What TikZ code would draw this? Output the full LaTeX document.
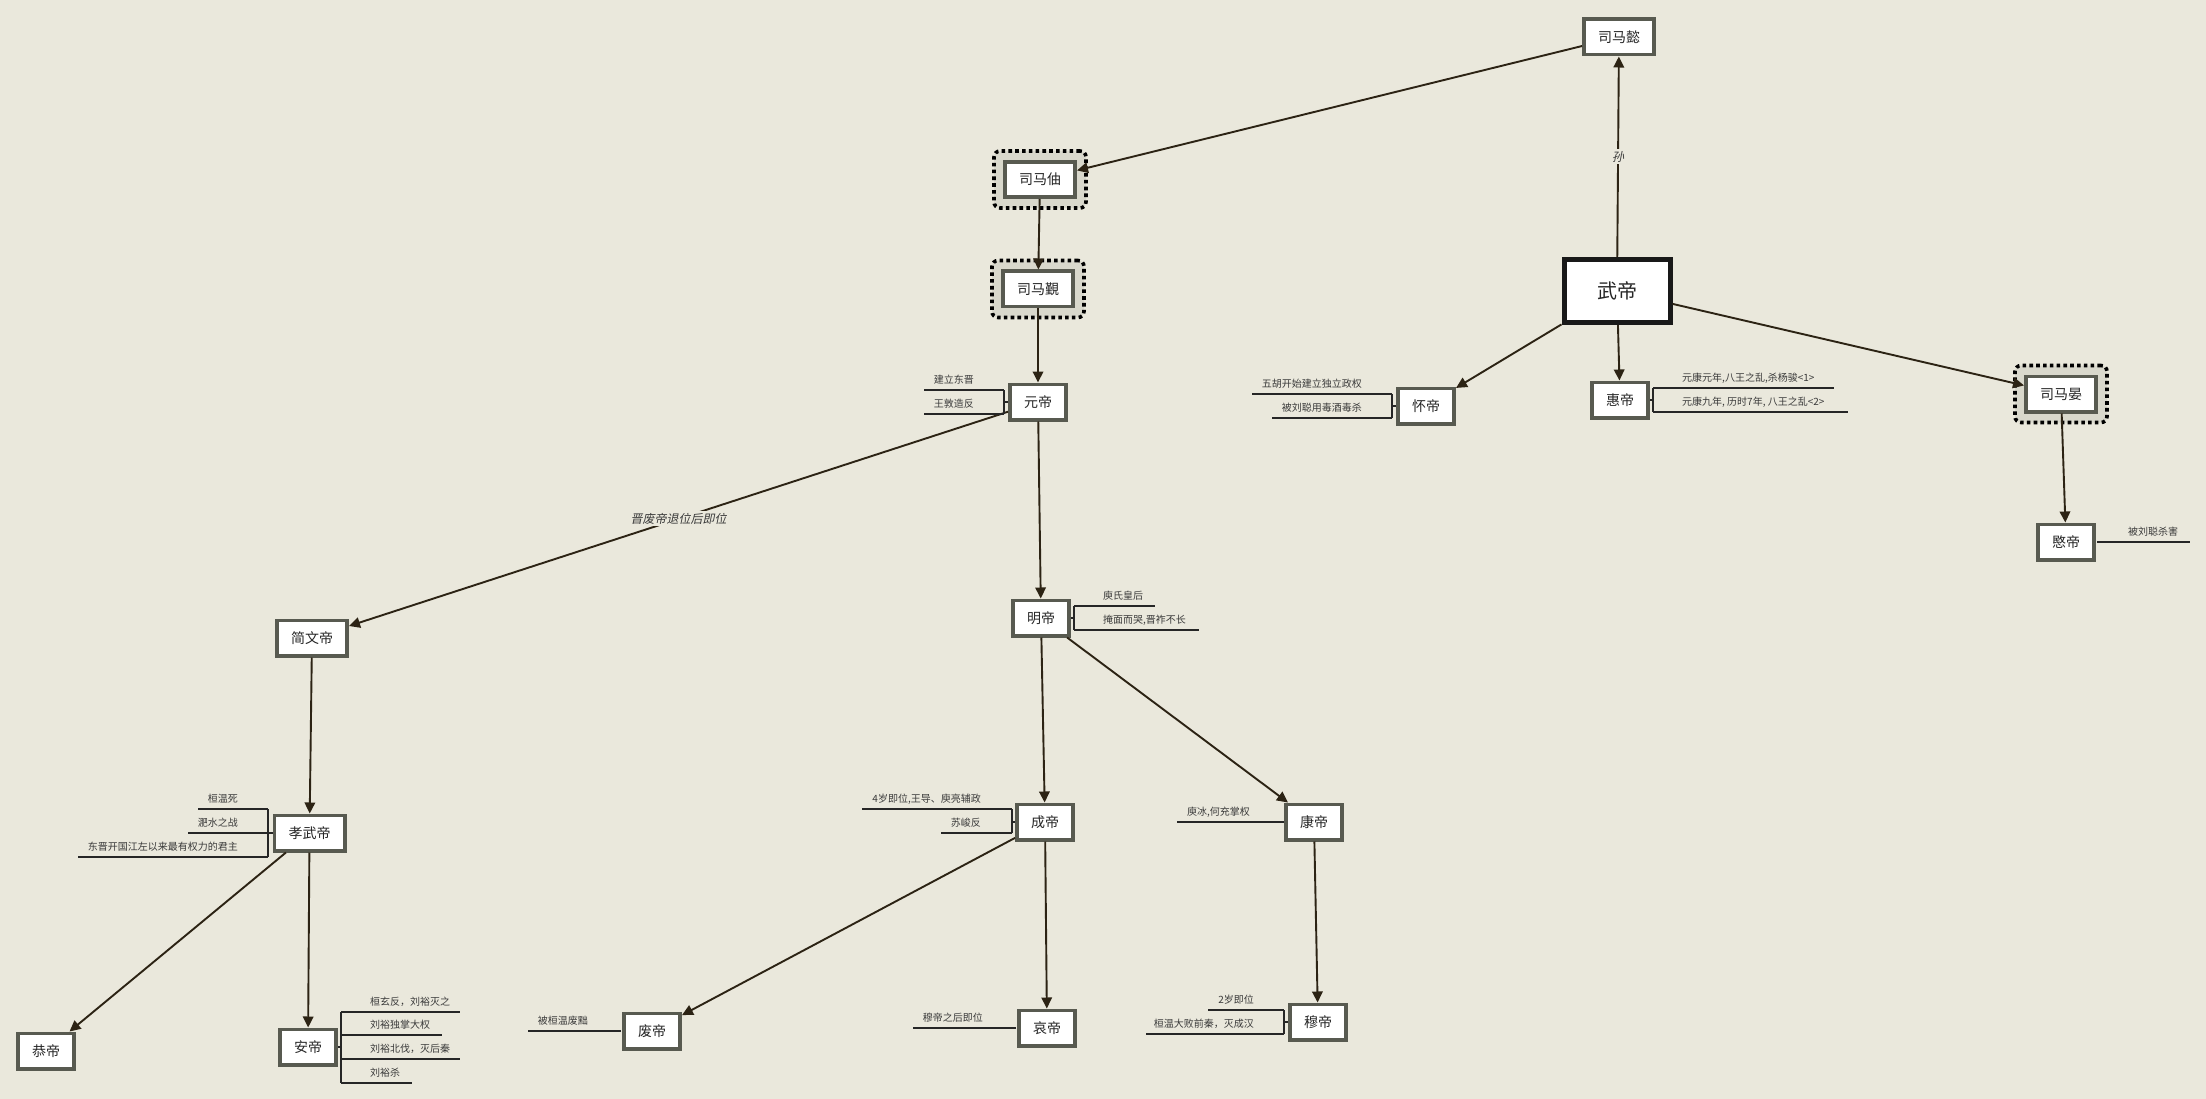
\documentclass[tikz,border=0pt]{standalone}
\usepackage{fontspec}
\setmainfont{Noto Sans CJK SC}
\newfontfamily\slantfont[FakeSlant=0.2]{Noto Sans CJK SC}
\usetikzlibrary{arrows.meta}
\definecolor{paper}{HTML}{EAE8DC}
\definecolor{boxline}{HTML}{585A50}
\definecolor{boxtext}{HTML}{262626}
\definecolor{edgecol}{HTML}{2C2314}
\definecolor{notecol}{HTML}{3A3A3A}
\definecolor{grpfill}{HTML}{D9D8CC}

% one annotation line: name, line y, x at bracket side, x at far end, text x, text
\newcommand\noteL[6]{%
  \coordinate (#1-a) at (#3,#2);
  \coordinate (#1-b) at (#4,#2);
  \draw[noteline] (#1-a) -- (#1-b);
  \node[notetext, anchor=east] (#1) at (#5,#2-10) {#6};}
\newcommand\noteR[6]{%
  \coordinate (#1-a) at (#3,#2);
  \coordinate (#1-b) at (#4,#2);
  \draw[noteline] (#1-a) -- (#1-b);
  \node[notetext, anchor=west] (#1) at (#5,#2-10) {#6};}

\begin{document}
\begin{tikzpicture}[x=1pt,y=-1pt,
  box/.style={draw=boxline, line width=3.8pt, fill=white, minimum height=35.2pt,
    inner sep=0pt, text=boxtext, font=\fontsize{14}{16}\selectfont},
  box2/.style={box, minimum width=56.2pt},
  box3/.style={box, minimum width=70.2pt},
  mainbox/.style={draw=black!90, line width=5pt, fill=white, minimum width=106pt,
    minimum height=63pt, inner sep=0pt, text=boxtext, font=\fontsize{20}{22}\selectfont},
  grp/.style={draw=black, fill=grpfill, line width=3.6pt, dash pattern=on 3.6pt off 3.2pt,
    rounded corners=6pt, minimum width=92pt, minimum height=57pt, inner sep=0pt},
  edge/.style={draw=edgecol, line width=1.9pt, -{Triangle[length=11pt,width=10.5pt]}},
  elabel/.style={fill=paper, inner sep=2pt, text=notecol, font=\slantfont\fontsize{12}{14}\selectfont},
  noteline/.style={draw=black!85, line width=1.1pt},
  notetext/.style={inner sep=0pt, text=notecol, font=\fontsize{10}{12}\selectfont}]

\useasboundingbox (0,0) rectangle (2206,1099);
\fill[paper] (0,0) rectangle (2206,1099);

% dotted frames behind some ancestors
\node[grp] (zhougrp) at (1040,179.5) {};
\node[grp] (jingrp) at (1038,289) {};
\node[grp] (yangrp) at (2061,394) {};

% persons
\node[box3] (yi) at (1619,37) {司马懿};
\node[mainbox] (wu) at (1617,291) {武帝};
\node[box2] (hui) at (1620,400) {惠帝};
\node[box2] (huai) at (1426,406) {怀帝};
\node[box3] (yan) at (2061,394) {司马晏};
\node[box2] (min) at (2066,542) {愍帝};
\node[box3] (zhou) at (1040,179.5) {司马伷};
\node[box3] (jin) at (1038,289) {司马覲};
\node[box2] (yuan) at (1038,402) {元帝};
\node[box2] (ming) at (1041,618) {明帝};
\node[box3] (jianwen) at (312,638) {简文帝};
\node[box3] (xiaowu) at (309.5,833) {孝武帝};
\node[box2] (gong) at (46,1051) {恭帝};
\node[box2] (an) at (308,1047) {安帝};
\node[box2] (fei) at (652,1031) {废帝};
\node[box2] (cheng) at (1045,822) {成帝};
\node[box2] (ai) at (1047,1028) {哀帝};
\node[box2] (kang) at (1314,822) {康帝};
\node[box2] (mu) at (1318,1022) {穆帝};

% lines of descent
\draw[edge] (wu) -- node[elabel, pos=0.5] {孙} (yi);
\draw[edge] (yi) -- (zhou);
\draw[edge] (zhou) -- (jin);
\draw[edge] (jin) -- (yuan);
\draw[edge] (yuan) -- node[elabel, pos=0.5] {晋废帝退位后即位} (jianwen);
\draw[edge] (yuan) -- (ming);
\draw[edge] (ming) -- (cheng);
\draw[edge] (ming) -- (kang);
\draw[edge] (cheng) -- (fei);
\draw[edge] (cheng) -- (ai);
\draw[edge] (kang) -- (mu);
\draw[edge] (jianwen) -- (xiaowu);
\draw[edge] (xiaowu) -- (gong);
\draw[edge] (xiaowu) -- (an);
\draw[edge] (wu) -- (huai);
\draw[edge] (wu) -- (hui);
\draw[edge] (wu) -- (yan);
\draw[edge] (yan) -- (min);

% notes: 元帝
\coordinate (yuan-k) at (1004,402);
\draw[noteline] (yuan.west) -- (yuan-k);
\noteL{yuan1}{390}{1004}{924}{974}{建立东晋}
\noteL{yuan2}{414}{1004}{924}{974}{王敦造反}
\draw[noteline] (yuan1-a) -- (yuan2-a);

% notes: 怀帝
\coordinate (huai-k) at (1392,406);
\draw[noteline] (huai.west) -- (huai-k);
\noteL{huai1}{394}{1392}{1252}{1362}{五胡开始建立独立政权}
\noteL{huai2}{418}{1392}{1272}{1362}{被刘聪用毒酒毒杀}
\draw[noteline] (huai1-a) -- (huai2-a);

% notes: 惠帝
\coordinate (hui-k) at (1653,400);
\draw[noteline] (hui.east) -- (hui-k);
\noteR{hui1}{388}{1653}{1834}{1682}{元康元年,八王之乱,杀杨骏<1>}
\noteR{hui2}{412}{1653}{1848}{1682}{元康九年, 历时7年, 八王之乱<2>}
\draw[noteline] (hui1-a) -- (hui2-a);

% notes: 愍帝
\noteR{min1}{542}{2097}{2190}{2128}{被刘聪杀害}

% notes: 明帝
\coordinate (ming-k) at (1074,618);
\draw[noteline] (ming.east) -- (ming-k);
\noteR{ming1}{606}{1074}{1155}{1103}{庾氏皇后}
\noteR{ming2}{630}{1074}{1199}{1103}{掩面而哭,晋祚不长}
\draw[noteline] (ming1-a) -- (ming2-a);

% notes: 孝武帝
\coordinate (xiaowu-k) at (268,833);
\draw[noteline] (xiaowu.west) -- (xiaowu-k);
\noteL{xiaowu1}{809}{268}{198}{238}{桓温死}
\noteL{xiaowu2}{833}{268}{188}{238}{淝水之战}
\noteL{xiaowu3}{857}{268}{78}{238}{东晋开国江左以来最有权力的君主}
\draw[noteline] (xiaowu1-a) -- (xiaowu3-a);

% notes: 安帝
\coordinate (an-k) at (341,1047);
\draw[noteline] (an.east) -- (an-k);
\noteR{an1}{1012}{341}{460}{370}{桓玄反，刘裕灭之}
\noteR{an2}{1035}{341}{442}{370}{刘裕独掌大权}
\noteR{an3}{1059}{341}{460}{370}{刘裕北伐，灭后秦}
\noteR{an4}{1083}{341}{412}{370}{刘裕杀}
\draw[noteline] (an1-a) -- (an4-a);

% notes: 废帝, 哀帝, 康帝
\noteL{fei1}{1031}{621}{528}{588}{被桓温废黜}
\noteL{ai1}{1028}{1016}{913}{983}{穆帝之后即位}
\noteL{kang1}{822}{1284}{1177}{1250}{庾冰,何充掌权}

% notes: 穆帝
\coordinate (mu-k) at (1284,1022);
\draw[noteline] (mu.west) -- (mu-k);
\noteL{mu1}{1010}{1284}{1208}{1254}{2岁即位}
\noteL{mu2}{1034}{1284}{1146}{1254}{桓温大败前秦，灭成汉}
\draw[noteline] (mu1-a) -- (mu2-a);

% notes: 成帝
\coordinate (cheng-k) at (1012,822);
\draw[noteline] (cheng.west) -- (cheng-k);
\noteL{cheng1}{809}{1012}{862}{981}{4岁即位,王导、庾亮辅政}
\noteL{cheng2}{833}{1012}{941}{981}{苏峻反}
\draw[noteline] (cheng1-a) -- (cheng2-a);

\end{tikzpicture}
\end{document}
